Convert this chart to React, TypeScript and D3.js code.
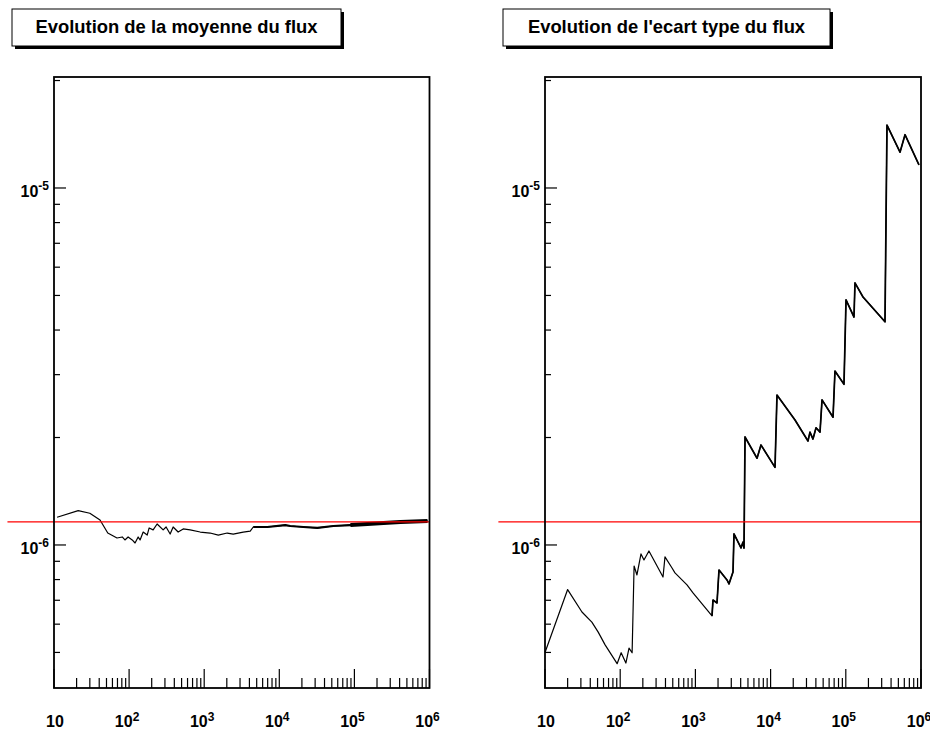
import React from "react";
import * as d3 from "d3";

// ---- data ----
const meanN = [11, 21, 30, 41, 52, 69, 81, 88, 97, 110, 120, 132, 140, 154, 174, 185, 209, 236, 284, 311, 352, 386, 450, 525, 650, 885, 1200, 1540, 2025, 2435, 3310, 4100, 4500, 6920, 12000, 14000, 20900, 32100, 52500, 88500, 149000, 244000, 410000, 940000];
const meanFlux = [1.196e-6, 1.248e-6, 1.227e-6, 1.175e-6, 1.080e-6, 1.046e-6, 1.053e-6, 1.033e-6, 1.053e-6, 1.033e-6, 1.013e-6, 1.053e-6, 1.033e-6, 1.087e-6, 1.066e-6, 1.116e-6, 1.102e-6, 1.145e-6, 1.102e-6, 1.123e-6, 1.073e-6, 1.123e-6, 1.087e-6, 1.109e-6, 1.102e-6, 1.087e-6, 1.080e-6, 1.066e-6, 1.080e-6, 1.073e-6, 1.087e-6, 1.094e-6, 1.123e-6, 1.123e-6, 1.137e-6, 1.130e-6, 1.123e-6, 1.116e-6, 1.130e-6, 1.137e-6, 1.145e-6, 1.152e-6, 1.160e-6, 1.167e-6];

const sdN = [10, 20, 31, 42, 51, 63, 91, 103, 119, 131, 144, 153, 167, 189, 207, 241, 371, 394, 489, 535, 773, 929, 1663, 1714, 1937, 2060, 2630, 2797, 3162, 3260, 4040, 4296, 4430, 4570, 6600, 7450, 11450, 12160, 21100, 31400, 33400, 36600, 40200, 45400, 48300, 67600, 71800, 94600, 100700, 128500, 132500, 169300, 332000, 353000, 526000, 613000, 940000];
const sdFlux = [5.0e-7, 7.5e-7, 6.49e-7, 6.08e-7, 5.70e-7, 5.25e-7, 4.65e-7, 4.99e-7, 4.67e-7, 5.14e-7, 4.99e-7, 8.73e-7, 8.24e-7, 9.44e-7, 9.08e-7, 9.62e-7, 8.13e-7, 9.26e-7, 8.62e-7, 8.35e-7, 7.73e-7, 7.34e-7, 6.33e-7, 7.01e-7, 6.88e-7, 8.51e-7, 7.98e-7, 7.78e-7, 8.40e-7, 1.074e-6, 9.81e-7, 1.019e-6, 9.8e-7, 2.007e-6, 1.75e-6, 1.906e-6, 1.65e-6, 2.63e-6, 2.24e-6, 1.955e-6, 2.07e-6, 1.98e-6, 2.13e-6, 2.07e-6, 2.55e-6, 2.28e-6, 3.07e-6, 2.82e-6, 4.86e-6, 4.35e-6, 5.42e-6, 4.95e-6, 4.22e-6, 1.50e-5, 1.26e-5, 1.41e-5, 1.16e-5];

const refValue = 1.16e-6;
const refLineN = [2.4, 1e6];

const xDomain = [10, 1e6];
const yDomain = [3.975e-7, 2.046e-5];
const xTickLabels = ["10", "10^2", "10^3", "10^4", "10^5", "10^6"];
const yTickLabels = ["10^-6", "10^-5"];

const titles = ["Evolution de la moyenne du flux", "Evolution de l'ecart type du flux"];

const FONT = "'Liberation Sans', Arial, Helvetica, sans-serif";

function Label({ text, x, y, anchor, size, supSize }: any) {
  const [base, exp] = text.split("^");
  return (
    <text x={x} y={y} textAnchor={anchor} fontFamily={FONT} fontWeight="bold" fontSize={size} fill="#000">
      {base}
      {exp !== undefined && (
        <tspan fontSize={supSize} dy={-6.5}>{exp}</tspan>
      )}
    </text>
  );
}

function Panel({ x0, x1, title, box, N, V, thick }: any) {
  const top = 77, bottom = 688;
  const x = d3.scaleLog().domain(xDomain).range([x0, x1]);
  const y = d3.scaleLog().domain(yDomain).range([bottom, top]);
  const pts: [number, number][] = N.map((n: number, i: number) => [n, V[i]]);
  const line = d3.line<[number, number]>().x((d) => x(d[0])).y((d) => y(d[1]));

  const xTicks: { v: number; major: boolean }[] = [];
  for (let e = 1; e <= 5; e++) for (let k = 1; k <= 9; k++) xTicks.push({ v: k * Math.pow(10, e), major: k === 1 });
  xTicks.push({ v: 1e6, major: true });

  const yTicks: { v: number; major: boolean }[] = [];
  for (let e = -7; e <= -5; e++) for (let k = 1; k <= 9; k++) {
    const v = k * Math.pow(10, e);
    const py = y(v);
    if (v >= yDomain[0] && v <= yDomain[1] && py > top + 3 && py < bottom - 3) yTicks.push({ v, major: k === 1 });
  }

  const [bx0, bx1] = box;
  const by0 = 9, bh = 37;
  return (
    <g>
      {/* title box with shadow */}
      <rect x={bx0 + 3} y={by0 + 3} width={bx1 - bx0} height={bh} fill="#000" />
      <rect x={bx0} y={by0} width={bx1 - bx0} height={bh} fill="#fff" stroke="#000" strokeWidth={1} />
      <text x={(bx0 + bx1) / 2} y={32.5} textAnchor="middle" fontFamily={FONT} fontWeight="bold" fontSize={18.4} fill="#000">{title}</text>

      {/* data */}
      <path d={line(pts) || ""} fill="none" stroke="#000" strokeWidth={1.2} strokeLinejoin="round" />
      {thick.map((t: any, i: number) => (
        <path key={i} d={line(pts.filter((p) => p[0] >= t.from)) || ""} fill="none" stroke="#000" strokeWidth={t.w} strokeLinejoin="round" />
      ))}

      {/* reference line */}
      <line x1={x(refLineN[0])} x2={x(refLineN[1])} y1={y(refValue)} y2={y(refValue)} stroke="#ff0000" strokeWidth={1.3} />

      {/* frame */}
      <rect x={x0} y={top} width={x1 - x0} height={bottom - top} fill="none" stroke="#000" strokeWidth={1.8} />

      {/* x ticks */}
      {xTicks.map((t, i) => (
        <line key={"xt" + i} x1={x(t.v)} x2={x(t.v)} y1={bottom} y2={bottom - (t.major ? 19 : 10)} stroke="#000" strokeWidth={1.2} />
      ))}
      {xTickLabels.map((s, i) => (
        <Label key={"xl" + i} text={s} x={x(Math.pow(10, i + 1)) + (i === 0 ? 1 : -2)} y={727} anchor="middle" size={16} supSize={12} />
      ))}

      {/* y ticks */}
      {yTicks.map((t, i) => (
        <line key={"yt" + i} x1={x0} x2={x0 + (t.major ? 12 : 6)} y1={y(t.v)} y2={y(t.v)} stroke="#000" strokeWidth={1.2} />
      ))}
      {yTickLabels.map((s, i) => (
        <Label key={"yl" + i} text={s} x={x0 - 5} y={y(Math.pow(10, i - 6)) + 9} anchor="end" size={16} supSize={12} />
      ))}
    </g>
  );
}

export default function App() {
  return (
    <svg width={930} height={731} style={{ position: "absolute", left: 0, top: 0, background: "#fff" }}>
      <rect x={0} y={0} width={930} height={731} fill="#fff" />
      <Panel x0={54} x1={429.5} title={titles[0]} box={[12, 341]} N={meanN} V={meanFlux}
        thick={[{ from: 4500, w: 2.2 }, { from: 88500, w: 4 }]} />
      <Panel x0={545} x1={921} title={titles[1]} box={[503, 830]} N={sdN} V={sdFlux}
        thick={[{ from: 1663, w: 1.7 }]} />
    </svg>
  );
}
